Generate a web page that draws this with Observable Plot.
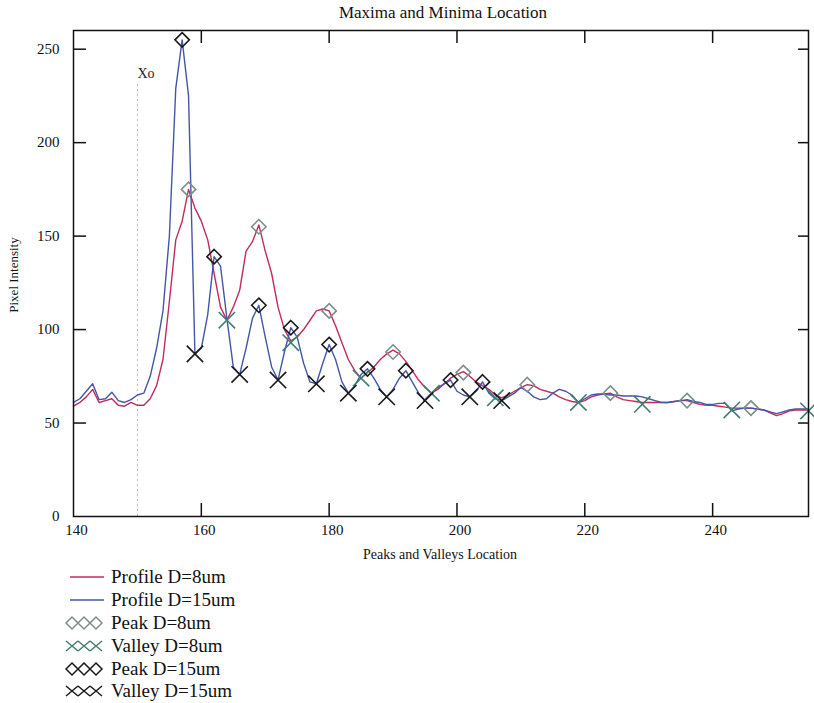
<!DOCTYPE html>
<html>
<head>
<meta charset="utf-8">
<script src="https://cdn.jsdelivr.net/npm/d3@7"></script>
<script src="https://cdn.jsdelivr.net/npm/@observablehq/plot@0.6"></script>
<style>
  body { margin: 0; background: #fff; }
  #wrap { position: relative; width: 814px; height: 703px; font-family: "Liberation Serif", "DejaVu Serif", serif; color: #111; }
  #title { position: absolute; left: 0; width: 886px; top: 3px; text-align: center; font-size: 17px; }
  #ylab { position: absolute; left: 14px; top: 275px; transform: translate(-50%, -50%) rotate(-90deg); font-size: 13px; white-space: nowrap; }
  #xlab { position: absolute; left: 0; width: 880px; top: 547px; text-align: center; font-size: 14px; }
  #legend { position: absolute; left: 64px; top: 566px; font-size: 19px; }
  #legend .row { display: flex; align-items: center; height: 22.8px; }
  #legend svg { margin-right: 5px; }
  #chart { position: absolute; left: 0; top: 0; }
  #chart svg text { font-family: "Liberation Serif", serif; }
</style>
</head>
<body>
<div id="wrap">
  <div id="chart"></div>
  <div id="title">Maxima and Minima Location</div>
  <div id="ylab">Pixel Intensity</div>
  <div id="xlab">Peaks and Valleys Location</div>
  <div id="legend"></div>
</div>
<script>
// ---- data ----
const xStart = 140;
const profile8 = [59,61,64,68,61,62,63,59.5,59,61,59.5,59.5,63,70,84,115,148,158,175,165,158,148,130,112,105,112,121,142,147,156,142,130,112,100,94,96,100,105,110,111,110,102,93,84,78,74,77,80,84,87,89,87,83,78,73,69,66,68,71,74,76,77.5,75,72,70,68,65,63.5,65,67,69,70.5,70,68,67,66,64,62.5,61.5,61,62,64,65,65.5,66,64,62.5,62,61.5,61,61,61,61,61,61.5,62,62,61,60,59.5,59.5,59,58.5,58,58,58,58,57.5,57,55.5,54,55,56.5,57,57,57];
const profile15 = [61,63,67,71,62.5,63,66.5,62,61,62.5,65,66,75,90,110,150,229,255,225,87,90,108,139,134,106,80,76,90,106,113,96,80,73,88,101,96,82,72,71,82,92,84,72,66,70,76,79,74,68,64,68,74,78,72,66,62,66,69,71,73,67,65,64,67,72,66,63,62,64,66,69,67,64,62.5,63,66,68,67,65,61,63,65,65.5,65.5,65,65,64.5,64.5,64.5,64,63,62,61,61,61.5,62,62.5,61.5,61,60,60,60.5,60.5,56.5,57.5,58,58,57.5,57,56,55,56,57,57.5,57.5,57.5];
const peak8X = [158,169,180,190,201,211,224,236,246];
const peak8Y = [175,155,110,88,77,70.5,66,62,58];
const valley8X = [164,174,185,196,206,219,229,243,255];
const valley8Y = [105,93,74,66,63.5,61,60,57,56.5];
const peak15X = [157,162,169,174,180,186,192,199,204];
const peak15Y = [255,139,113,101,92,79,78,73,72];
const valley15X = [159,166,172,178,183,189,195,202,207];
const valley15Y = [87,76,73,71,66,64,62,64,62];
const xTicks = [140,160,180,200,220,240];
const yTicks = [0,50,100,150,200,250];
const xo = 150;

const col8 = "#c42a5c", col15 = "#4456a8", colPk8 = "#7d8f88", colVa8 = "#3f8070", colBlk = "#1a1a1a";

const p8 = profile8.map((y,i)=>({x:xStart+i,y}));
const p15 = profile15.map((y,i)=>({x:xStart+i,y}));
const zip = (xs,ys)=>xs.map((x,i)=>({x,y:ys[i]}));

const W = 814, H = 703, mL = 73, mR = 6, mT = 30, mB = 187;
const iw = W - mL - mR, ih = H - mT - mB;
const serif = "Liberation Serif";

const plot = Plot.plot({
  width: W, height: H,
  marginLeft: mL, marginRight: mR, marginTop: mT, marginBottom: mB,
  style: {fontFamily: "'Liberation Serif', serif", fontSize: "15px", color: "#111", background: "transparent"},
  x: {domain: [140, 255]},
  y: {domain: [0, 260]},
  marks: [
    Plot.ruleX([xo], {y1: 0, y2: 232, stroke: "#bbb", strokeDasharray: "2,3", strokeWidth: 1}),
    Plot.text([xo], {x: d=>d, y: 237, text: ()=>"Xo", textAnchor: "start", fontSize: 14, fill: "#222", fontFamily: serif}),
    Plot.line(p8, {x: "x", y: "y", stroke: col8, strokeWidth: 1.4}),
    Plot.line(p15, {x: "x", y: "y", stroke: col15, strokeWidth: 1.4}),
    Plot.dot(zip(peak8X, peak8Y), {x: "x", y: "y", symbol: "diamond2", r: 6.5, stroke: colPk8, strokeWidth: 1.6}),
    Plot.dot(zip(valley8X, valley8Y), {x: "x", y: "y", symbol: "times", r: 7.5, stroke: colVa8, strokeWidth: 1.6}),
    Plot.dot(zip(peak15X, peak15Y), {x: "x", y: "y", symbol: "diamond2", r: 6.5, stroke: colBlk, strokeWidth: 1.6}),
    Plot.dot(zip(valley15X, valley15Y), {x: "x", y: "y", symbol: "times", r: 7.5, stroke: colBlk, strokeWidth: 1.6}),
    Plot.frame({stroke: "#111", strokeWidth: 1.5}),
    Plot.tickY(yTicks.filter(d=>d>0), {y: d=>d, insetRight: iw - 13, stroke: "#111", strokeWidth: 1.5}),
    Plot.tickY(yTicks.filter(d=>d>0), {y: d=>d, insetLeft: iw - 10, stroke: "#111", strokeWidth: 1.5}),
    Plot.tickX(xTicks.filter(d=>d>140), {x: d=>d, insetTop: ih - 13, stroke: "#111", strokeWidth: 1.5}),
    Plot.tickX(xTicks.filter(d=>d>140), {x: d=>d, insetBottom: ih - 13, stroke: "#111", strokeWidth: 1.5}),
    Plot.axisY(yTicks, {tickSize: 0, tickPadding: 14, label: null, fontSize: 15, fontFamily: serif}),
    Plot.axisX(xTicks, {tickSize: 0, tickPadding: 8, label: null, fontSize: 15, dx: 3, fontFamily: serif})
  ]
});
document.getElementById("chart").appendChild(plot);

// ---- legend ----
const legendItems = [
  {label: "Profile D=8um", type: "line", color: col8},
  {label: "Profile D=15um", type: "line", color: col15},
  {label: "Peak D=8um", type: "diamond", color: colPk8},
  {label: "Valley D=8um", type: "times", color: colVa8},
  {label: "Peak D=15um", type: "diamond", color: colBlk},
  {label: "Valley D=15um", type: "times", color: colBlk}
];
const leg = d3.select("#legend");
legendItems.forEach(it => {
  const row = leg.append("div").attr("class", "row");
  const s = row.append("svg").attr("width", 42).attr("height", 18);
  if (it.type === "line") {
    s.append("line").attr("x1", 6).attr("x2", 40).attr("y1", 9).attr("y2", 9).attr("stroke", it.color).attr("stroke-width", 1.4);
  } else {
    [8, 20, 32].forEach(cx => {
      const g = s.append("path").attr("transform", `translate(${cx},9)`).attr("fill", "none").attr("stroke", it.color).attr("stroke-width", 1.5);
      if (it.type === "diamond") g.attr("d", "M0,-6L6,0L0,6L-6,0Z");
      else g.attr("d", "M-6,-5L6,5M-6,5L6,-5");
    });
  }
  row.append("span").text(it.label);
});
</script>
</body>
</html>
